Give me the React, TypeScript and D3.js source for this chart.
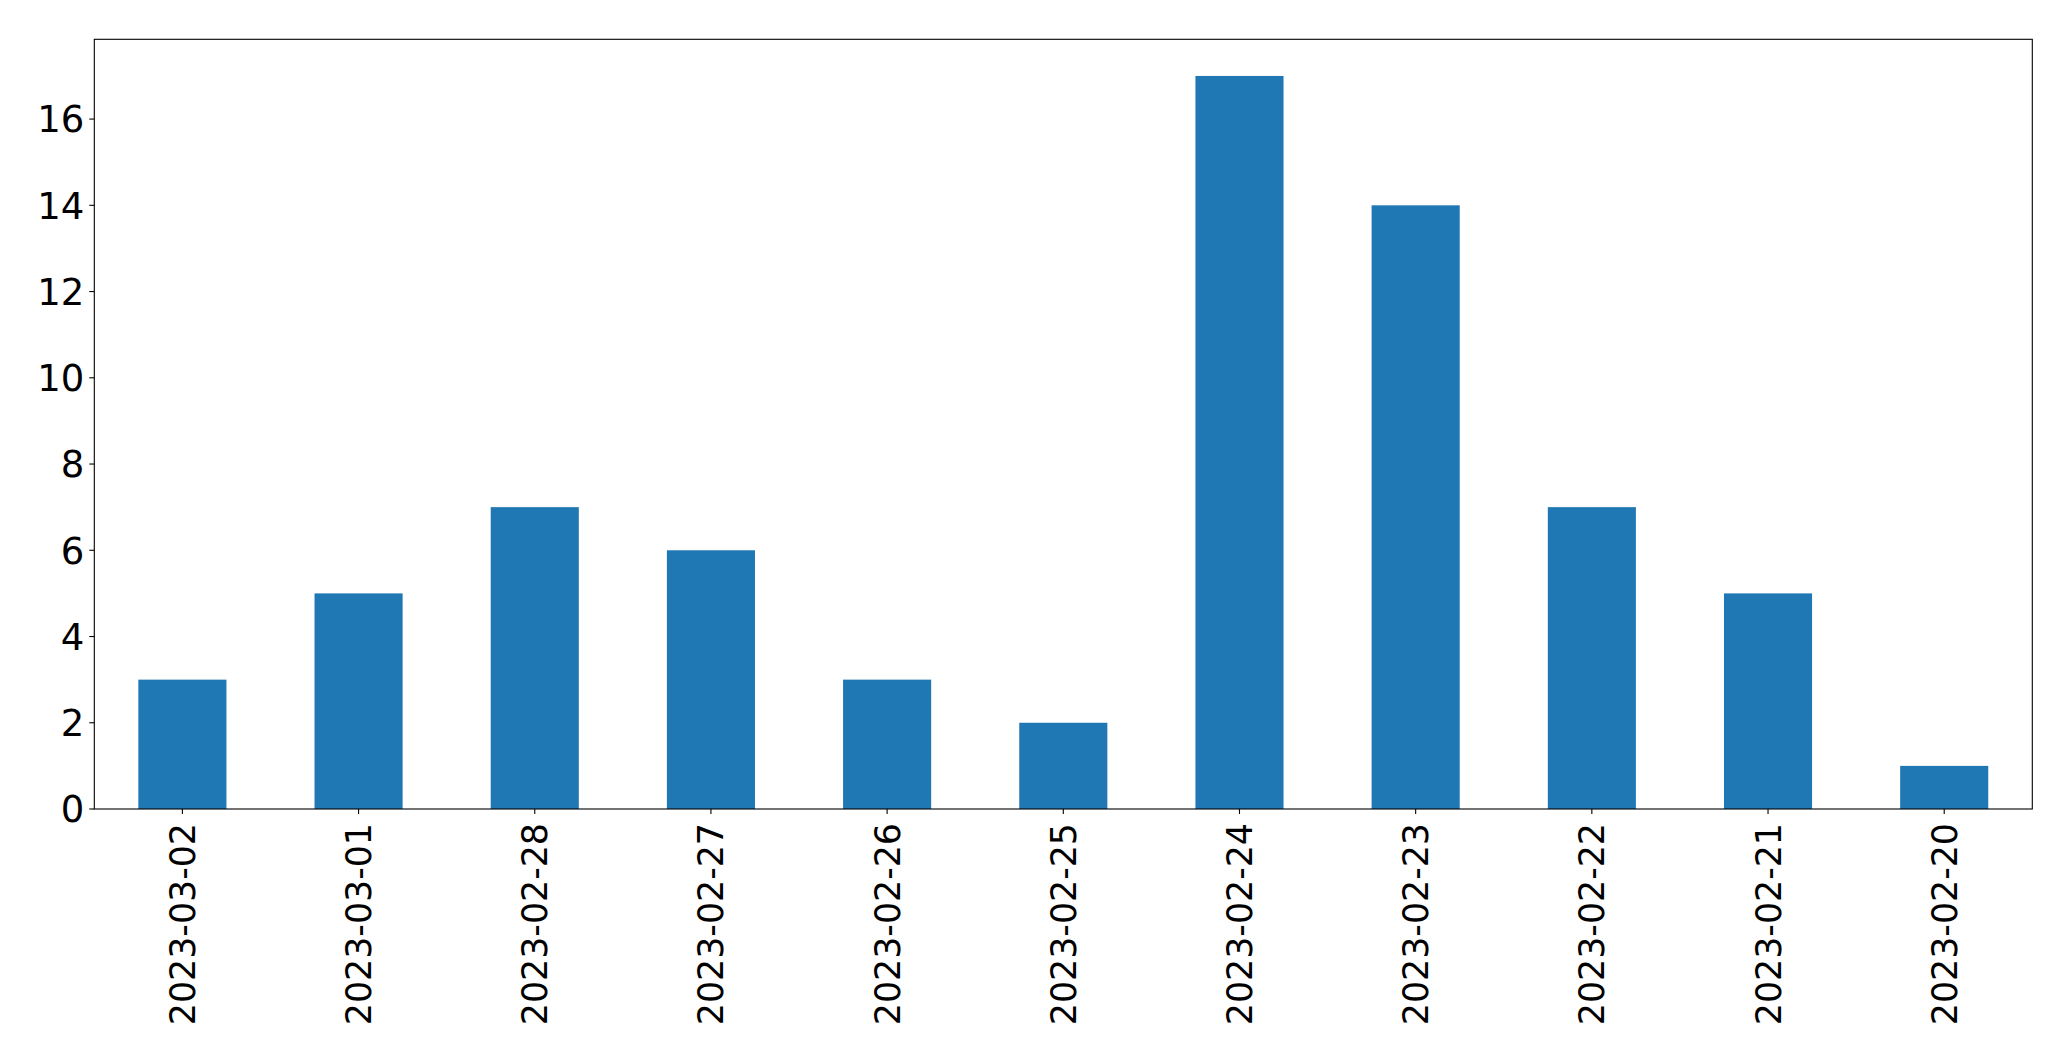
import React from "react";
import * as d3 from "d3";

const categories = ["2023-03-02","2023-03-01","2023-02-28","2023-02-27","2023-02-26","2023-02-25","2023-02-24","2023-02-23","2023-02-22","2023-02-21","2023-02-20"];
const values = [3,5,7,6,3,2,17,14,7,5,1];
const yTicks = [0,2,4,6,8,10,12,14,16];

const W = 2071, H = 1061;
const M = { left: 94.3, right: 2032.3, top: 39.3, bottom: 809 };
const FONT = "'DejaVu Sans', sans-serif";
const FSY = 37;
const FSX = 34.8;

export default function App() {
  const x = d3.scaleBand<string>().domain(categories).range([M.left, M.right]).paddingInner(0.5).paddingOuter(0.25);
  const yMax = d3.max(values)! * 1.05;
  const y = d3.scaleLinear().domain([0, yMax]).range([M.bottom, M.top]);
  return (
    <svg width={W} height={H} style={{ position: "absolute", left: 0, top: 0, background: "#fff" }}>
      <rect x={0} y={0} width={W} height={H} fill="#fff" />
      {categories.map((c, i) => (
        <rect key={c} x={x(c)} y={y(values[i])} width={x.bandwidth()} height={y(0) - y(values[i])} fill="#1f77b4" />
      ))}
      <rect x={M.left} y={M.top} width={M.right - M.left} height={M.bottom - M.top} fill="none" stroke="#000" strokeWidth={1.1} />
      {yTicks.map(t => (
        <g key={t}>
          <line x1={M.left - 5} x2={M.left} y1={y(t)} y2={y(t)} stroke="#000" strokeWidth={1.1} />
          <text x={M.left - 10} y={y(t)} dy="0.36em" textAnchor="end" fontFamily={FONT} fontSize={FSY} fill="#000">{t}</text>
        </g>
      ))}
      {categories.map(c => {
        const cx = x(c)! + x.bandwidth() / 2;
        return (
          <g key={c}>
            <line x1={cx} x2={cx} y1={M.bottom} y2={M.bottom + 5} stroke="#000" strokeWidth={1.1} />
            <text transform={`translate(${cx},${M.bottom + 14}) rotate(-90)`} dy="0.36em" textAnchor="end" fontFamily={FONT} fontSize={FSX} fill="#000">{c}</text>
          </g>
        );
      })}
    </svg>
  );
}
